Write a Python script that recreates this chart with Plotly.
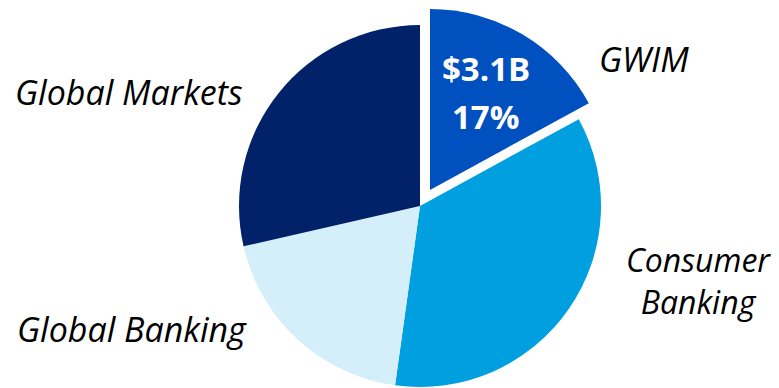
import plotly.graph_objects as go

# Revenue by business segment ($B)
segments = ["GWIM", "Consumer Banking", "Global Banking", "Global Markets"]
revenue_b = [3.1, 6.4, 3.5, 5.2]
slice_colors = ["#0050C0", "#009FDF", "#D4EEFA", "#012169"]
highlight = "GWIM"

W, H = 779, 388
total = sum(revenue_b)
hi = segments.index(highlight)


def px_to_paper(x, y):
    return x / W, 1 - y / H


# base pie: every segment except the highlighted one
base_colors = [c if s != highlight else "rgba(0,0,0,0)" for s, c in zip(segments, slice_colors)]
# exploded pie: only the highlighted segment, shifted out along its bisector
hi_colors = [c if s == highlight else "rgba(0,0,0,0)" for s, c in zip(segments, slice_colors)]

cx, cy, r = 420, 206, 181
dx, dy = 10, -16


def domain(cx, cy, r):
    x0, y1 = px_to_paper(cx - r, cy - r)
    x1, y0 = px_to_paper(cx + r, cy + r)
    return dict(x=[x0, x1], y=[y0, y1])


common = dict(
    labels=segments,
    values=revenue_b,
    sort=False,
    direction="clockwise",
    rotation=0,
    textinfo="none",
    hoverinfo="label+value+percent",
    showlegend=False,
)

fig = go.Figure()
fig.add_trace(go.Pie(
    **common,
    marker=dict(colors=base_colors, line=dict(width=0)),
    domain=domain(cx, cy, r),
))
fig.add_trace(go.Pie(
    **common,
    marker=dict(colors=hi_colors, line=dict(width=0)),
    domain=domain(cx + dx, cy + dy, r),
))

# segment name anchors (px) and font size
label_style = {
    "GWIM": ((644, 59), 34),
    "Consumer Banking": ((698, 280), 32),
    "Global Banking": ((132, 329), 34),
    "Global Markets": ((129, 92), 34),
}
annotations = []
for s in segments:
    (px, py), size = label_style[s]
    x, y = px_to_paper(px, py)
    annotations.append(dict(
        x=x, y=y, xref="paper", yref="paper",
        text=s.replace(" ", "<br>") if s == "Consumer Banking" else s,
        showarrow=False, xanchor="center", yanchor="middle",
        font=dict(family="Open Sans", size=size, color="#000000", style="italic"),
    ))

# value and share of the highlighted segment, on two lines inside the slice
value_lines = [f"${revenue_b[hi]}B", f"{revenue_b[hi] / total:.0%}"]
value_pos = [(486, 68), (486, 116)]
for line, pos in zip(value_lines, value_pos):
    x, y = px_to_paper(*pos)
    annotations.append(dict(
        x=x, y=y, xref="paper", yref="paper",
        text=f"<b>{line}</b>",
        showarrow=False, xanchor="center", yanchor="middle",
        font=dict(family="Open Sans", size=33, color="#FFFFFF"),
    ))

fig.update_layout(
    width=W, height=H,
    margin=dict(l=0, r=0, t=0, b=0),
    paper_bgcolor="white",
    plot_bgcolor="white",
    annotations=annotations,
)

fig.write_html("out.html")
